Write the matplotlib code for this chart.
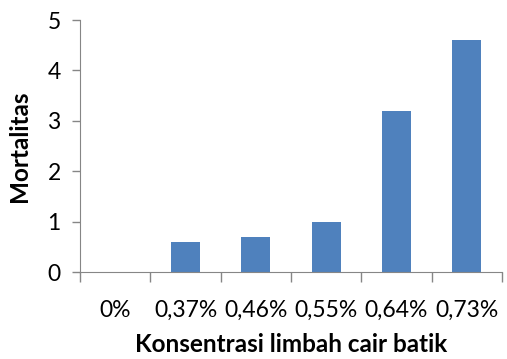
import matplotlib.pyplot as plt
import numpy as np

plt.rcParams['font.family'] = ['Lato', 'DejaVu Sans']

categories = ['0%', '0,37%', '0,46%', '0,55%', '0,64%', '0,73%']
mortalitas = [0, 0.6, 0.7, 1.0, 3.2, 4.6]

fig = plt.figure(figsize=(5.07, 3.59), dpi=100)
ax = fig.add_axes([0.158, 0.2423, 0.832, 0.7017])

x = np.arange(len(categories))
ax.bar(x, mortalitas, width=0.41, color='#4F81BD', zorder=2)

ax.set_xlim(-0.5, len(categories) - 0.5)
ax.set_ylim(0, 5)
ax.set_yticks(range(6))
ax.tick_params(axis='y', length=6, width=1, color='#868686', labelsize=16.5, pad=8)

ax.set_xticks(x)
ax.set_xticklabels(categories)
ax.tick_params(axis='x', length=0, labelsize=16.5, pad=20)
ax.set_xticks(np.arange(-0.5, len(categories)), minor=True)
ax.tick_params(axis='x', which='minor', length=7, width=1, color='#868686')

for s in ['top', 'right']:
    ax.spines[s].set_visible(False)
for s in ['left', 'bottom']:
    ax.spines[s].set_color('#868686')

ax.set_ylabel('Mortalitas', fontsize=17.5, fontweight='bold', labelpad=12)
ax.set_xlabel('Konsentrasi limbah cair batik', fontsize=17.5, fontweight='bold', labelpad=9)

fig.savefig('out.png', dpi=100)
